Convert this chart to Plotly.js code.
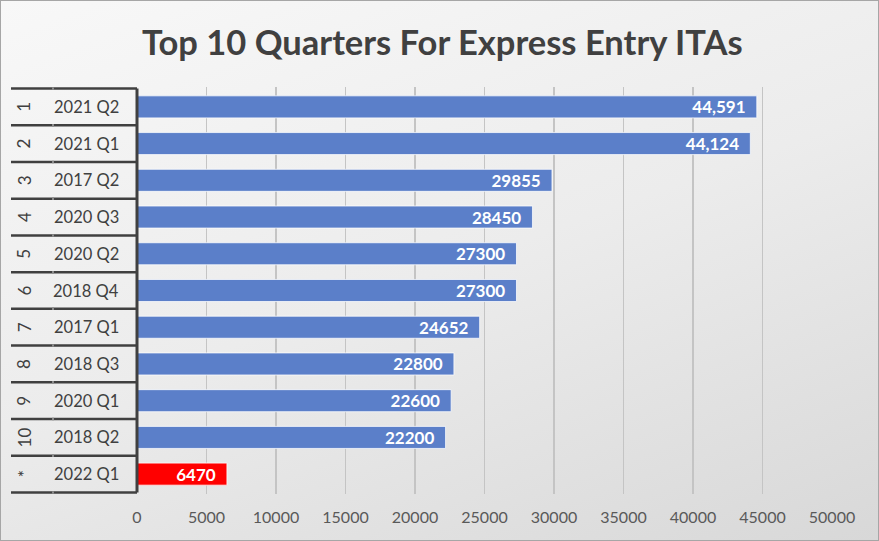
<!DOCTYPE html>
<html>
<head>
<meta charset="utf-8">
<script src="https://cdn.plot.ly/plotly-3.0.1.min.js"></script>
<style>
  html, body { margin:0; padding:0; }
  #chart { width:879px; height:541px; box-sizing:border-box; border:1px solid #a6a6a6;
    background: linear-gradient(160deg, #f8f8f8 0%, #ececec 50%, #d8d8d8 100%); }
</style>
</head>
<body>
<div id="chart"></div>
<script>
const ranks = ['1','2','3','4','5','6','7','8','9','10','*'];
const quarters = ['2021 Q2','2021 Q1','2017 Q2','2020 Q3','2020 Q2','2018 Q4','2017 Q1','2018 Q3','2020 Q1','2018 Q2','2022 Q1'];
const values = [44591, 44124, 29855, 28450, 27300, 27300, 24652, 22800, 22600, 22200, 6470];
const valueLabels = ['44,591','44,124','29855','28450','27300','27300','24652','22800','22600','22200','6470'];
const barColors = ['#5b7fc9','#5b7fc9','#5b7fc9','#5b7fc9','#5b7fc9','#5b7fc9','#5b7fc9','#5b7fc9','#5b7fc9','#5b7fc9','#ff0000'];
const xTicks = [0,5000,10000,15000,20000,25000,30000,35000,40000,45000,50000];

const W = 879, mL = 136, mR = 48;
const plotW = W - mL - mR;
const px2paper = px => (px - mL) / plotW;

const trace = {
  type: 'bar', orientation: 'h',
  x: values, y: quarters,
  marker: { color: barColors, line: { color: 'rgba(255,255,255,0.75)', width: 1 } },
  width: 0.6,
  text: valueLabels.map(t => t + '\u00a0\u00a0'),
  textposition: 'inside', insidetextanchor: 'end',
  textfont: { family: 'Lato, sans-serif', size: 17, color: '#ffffff', weight: 'bold' },
  constraintext: 'none',
  hoverinfo: 'none'
};

const shapes = [];
for (let i = 0; i <= quarters.length; i++) {
  shapes.push({ type: 'line', xref: 'paper', yref: 'y', x0: px2paper(10), x1: 0, y0: i - 0.5, y1: i - 0.5,
    line: { color: '#404040', width: 2.5 } });
  shapes.push({ type: 'line', xref: 'paper', yref: 'y', x0: px2paper(51), x1: px2paper(53), y0: i - 0.5, y1: i - 0.5,
    line: { color: '#8a8a8a', width: 2.5 } });
}
shapes.push({ type: 'line', xref: 'paper', yref: 'y', x0: 0, x1: 0, y0: -0.5, y1: quarters.length - 0.5,
  line: { color: '#404040', width: 3 } });

const annotations = [];
quarters.forEach((q, i) => {
  annotations.push({ xref: 'paper', yref: 'y', x: px2paper(85), y: q, text: q, showarrow: false,
    xanchor: 'center', yanchor: 'middle', font: { family: 'Lato, sans-serif', size: 16.5, color: '#404040' } });
  annotations.push({ xref: 'paper', yref: 'y', x: px2paper(23), y: q, text: ranks[i], showarrow: false,
    textangle: -90, xanchor: 'center', yanchor: 'middle', font: { family: 'Lato, sans-serif', size: 17, color: '#404040' } });
});

const layout = {
  width: W, height: 541,
  margin: { l: mL, r: mR, t: 86, b: 48 },
  paper_bgcolor: 'rgba(0,0,0,0)', plot_bgcolor: 'rgba(0,0,0,0)',
  title: { text: 'Top 10 Quarters For Express Entry ITAs', x: 0.502, xref: 'container', xanchor: 'center',
    y: 0.922, yref: 'container', yanchor: 'middle',
    font: { family: 'Lato, sans-serif', size: 34.5, color: '#404040', weight: 'bold' } },
  xaxis: { range: [0, 50000], tickvals: xTicks, ticktext: xTicks.map(String), showgrid: true, gridcolor: '#c4c4c4', gridwidth: 1.5,
    zeroline: false, showline: false, ticks: '', ticklabelstandoff: 12,
    tickfont: { family: 'Lato, sans-serif', size: 16, color: '#595959' } },
  yaxis: { type: 'category', categoryorder: 'array', categoryarray: quarters, autorange: 'reversed',
    showticklabels: false, showgrid: false, zeroline: false, showline: false, ticks: '' },
  shapes: shapes,
  annotations: annotations,
  showlegend: false
};

Plotly.newPlot('chart', [trace], layout, { displayModeBar: false, staticPlot: true });
</script>
</body>
</html>
